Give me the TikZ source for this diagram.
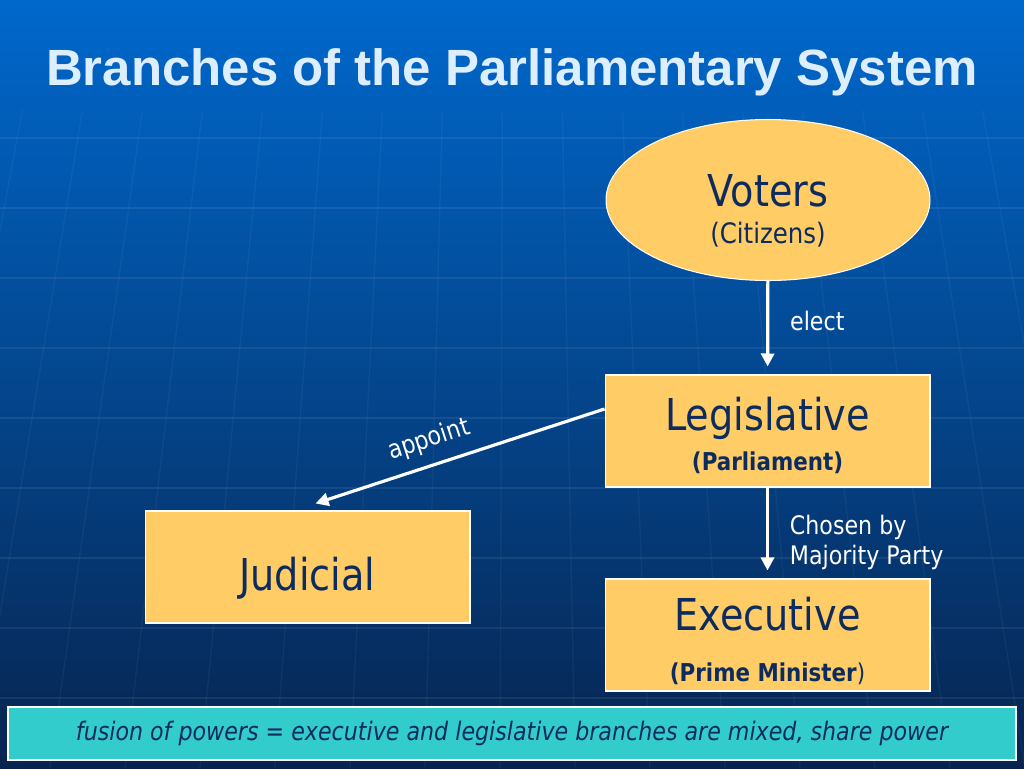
\documentclass[tikz,border=0pt]{standalone}
\usepackage{fontspec}
\setmainfont{DejaVu Sans}[FakeStretch=0.87]
\newfontfamily\titlefont{Liberation Sans}
\usepackage{xcolor}
\usetikzlibrary{arrows.meta,shapes.geometric,calc}
\definecolor{navy}{HTML}{0C2B5E}
\definecolor{boxfill}{HTML}{FFCC66}
\definecolor{bandfill}{HTML}{33CCCC}
\definecolor{skytop}{HTML}{0068CC}
\definecolor{skymid}{HTML}{0A4E9C}
\definecolor{skybot}{HTML}{07244F}
\definecolor{titlecol}{HTML}{DDEEFF}
\newcommand{\bigw}[2][0.67cm]{{\fontsize{25}{25}\selectfont\rule{0pt}{#1}#2}}

\begin{document}
\begin{tikzpicture}[x=0.02cm, y=-0.02cm,
  every node/.style={text=navy},
  br/.style={draw=white, line width=0.6pt, fill=boxfill, align=center,
             minimum width=6.5cm, minimum height=2.24cm, inner sep=0pt},
  vt/.style={br, ellipse, minimum width=6.48cm, minimum height=3.22cm},
  lb/.style={text=white, font=\fontsize{14.5}{17}\selectfont, align=left},
  ar/.style={draw=white, line width=1.8pt, -{Triangle[length=2.6mm,width=2.6mm]}}]
  % background
  \useasboundingbox (0,0) rectangle (1024,768);
  \shade[top color=skytop, middle color=skymid, bottom color=skybot] (0,0) rectangle (1024,768);
  \foreach \gy in {138,208,...,698}
    \draw[white, opacity=0.07, line width=0.8pt] (0,\gy) -- (1024,\gy);
  \foreach \gx in {-100,-25,...,1124}
    \draw[white, opacity=0.045, line width=0.8pt] ({512+(\gx-512)*0.8},110) -- (\gx,768);

  \node[text=titlecol, font=\titlefont\bfseries\fontsize{29}{29}\selectfont, anchor=base]
    (title) at (512,85) {Branches of the Parliamentary System};

  \node[vt] (voters) at (768,200)
    {\bigw[1.07cm]{Voters}\\[8pt]{\fontsize{16}{16}\selectfont (Citizens)}};
  \node[br] (leg) at (767.5,431)
    {\bigw[0.83cm]{Legislative}\\[6pt]{\fontsize{14}{14}\selectfont\bfseries (Parliament)}};
  \node[br] (exec) at (767.5,635)
    {\bigw[0.91cm]{Executive}\\[17pt]{\fontsize{14}{14}\selectfont\bfseries (Prime Minister}{\fontsize{14}{14}\selectfont )}};
  \node[br] (jud) at (307.5,567) {\bigw[1.1cm]{Judicial}};

  \draw[ar, shorten >=0.16cm] (voters) -- node[lb, right=0.3cm, pos=0.43] {elect} (leg);
  \draw[ar, shorten >=0.16cm] (leg) -- node[lb, right=0.3cm, pos=0.6] {Chosen by\\Majority Party} (exec);
  \draw[ar] ($(leg.west)+(0,-22)$) -- node[lb, above=3pt, sloped, pos=0.58] {appoint}
    ($(jud.north)+(8,-7)$);

  \node[draw=white, line width=1.2pt, fill=bandfill, minimum width=20.16cm,
        minimum height=1.06cm, inner sep=0pt, font=\itshape\fontsize{14.5}{15}\selectfont]
    (fusion) at (512,733.5)
    {fusion of powers = executive and legislative branches are mixed, share power};
\end{tikzpicture}
\end{document}
